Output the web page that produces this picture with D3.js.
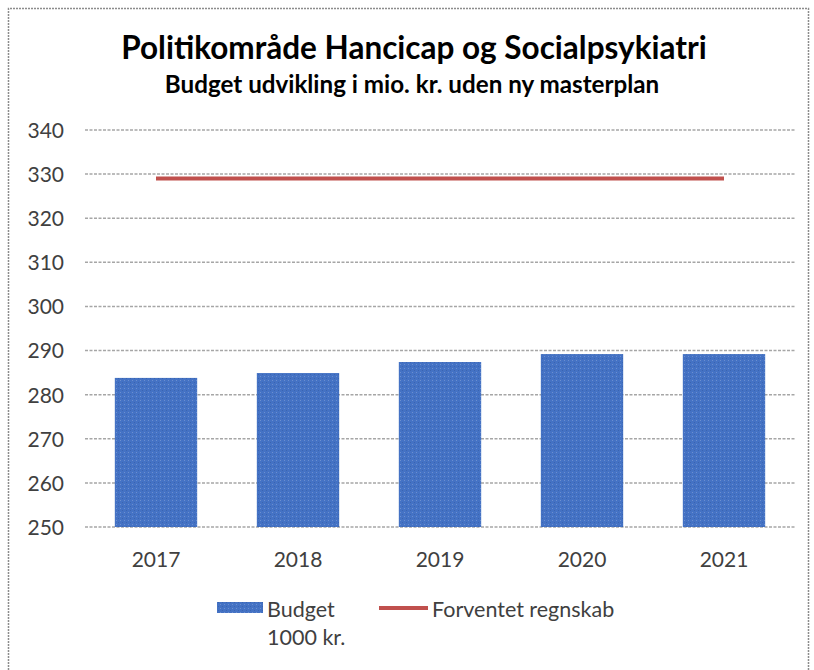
<!DOCTYPE html>
<html><head><meta charset="utf-8">
<script src="https://cdn.jsdelivr.net/npm/d3@7"></script>
<style>body{margin:0;background:#fff;}svg{display:block;}</style>
</head><body>
<script>
const categories = ["2017","2018","2019","2020","2021"];
const budget = [283.8, 284.9, 287.4, 289.2, 289.2];
const forventet = [329, 329, 329, 329, 329];
const yTicks = [250,260,270,280,290,300,310,320,330,340];

const W = 814, H = 670;
const svg = d3.select("body").append("svg").attr("width", W).attr("height", H);
const font = "Lato, 'Open Sans', sans-serif";

const defs = svg.append("defs");
const pat = defs.append("pattern").attr("id","dots").attr("patternUnits","userSpaceOnUse").attr("width",4).attr("height",4);
pat.append("rect").attr("width",4).attr("height",4).attr("fill","#4472c4");
pat.append("rect").attr("x",0).attr("y",0).attr("width",1).attr("height",1).attr("fill","#6b8fd0");
pat.append("rect").attr("x",2).attr("y",2).attr("width",1).attr("height",1).attr("fill","#3a64b0");

// frame
svg.append("path").attr("d","M8.5,670 V8.5 H808.5 V670").attr("fill","none")
  .attr("stroke","#8c8c8c").attr("stroke-width",1.5).attr("stroke-dasharray","2,1");

const x = d3.scaleBand().domain(categories).range([85,795]).paddingInner(0.42).paddingOuter(0.21);
const y = d3.scaleLinear().domain([250,340]).range([527,130]);

// grid
svg.append("g").selectAll("line").data(yTicks).join("line")
  .attr("x1",85).attr("x2",795).attr("y1",d=>y(d)).attr("y2",d=>y(d))
  .attr("stroke","#a6a6a6").attr("stroke-width",1.5).attr("stroke-dasharray","3,1.5");

// y axis labels
const yAxis = d3.axisLeft(y).tickValues(yTicks).tickSize(0).tickPadding(0);
const yg = svg.append("g").attr("transform","translate(64,0)").call(yAxis);
yg.select(".domain").remove();
yg.selectAll("text").attr("font-family",font).attr("font-size",21).attr("fill","#404040").attr("dy","0.35em");

// x axis labels
const xAxis = d3.axisBottom(x).tickSize(0).tickPadding(0);
const xg = svg.append("g").attr("transform","translate(0,552)").call(xAxis);
xg.select(".domain").remove();
xg.selectAll("text").attr("font-family",font).attr("font-size",21).attr("fill","#404040").attr("dy","0.71em");

// bars
svg.append("g").selectAll("rect").data(budget).join("rect")
  .attr("x",(d,i)=>x(categories[i])).attr("width",x.bandwidth())
  .attr("y",d=>y(d)).attr("height",d=>y(250)-y(d))
  .attr("fill","url(#dots)");

// line
const line = d3.line().x((d,i)=>x(categories[i])+x.bandwidth()/2).y(d=>y(d));
svg.append("path").datum(forventet).attr("d",line).attr("fill","none")
  .attr("stroke","#c0504d").attr("stroke-width",4);

// titles
svg.append("text").attr("x",414).attr("y",59).attr("text-anchor","middle")
  .attr("font-family",font).attr("font-weight","bold").attr("font-size",31.5).attr("fill","#000")
  .text("Politikområde Hancicap og Socialpsykiatri");
svg.append("text").attr("x",412).attr("y",93).attr("text-anchor","middle")
  .attr("font-family",font).attr("font-weight","bold").attr("font-size",24.2).attr("fill","#000")
  .text("Budget udvikling i mio. kr. uden ny masterplan");

// legend
const lg = svg.append("g");
lg.append("rect").attr("x",217).attr("y",602).attr("width",46).attr("height",11).attr("fill","url(#dots)");
lg.append("text").attr("x",267).attr("y",617).attr("font-family",font).attr("font-size",21.5).attr("fill","#404040").text("Budget");
lg.append("text").attr("x",267).attr("y",645).attr("font-family",font).attr("font-size",21.5).attr("fill","#404040").text("1000 kr.");
lg.append("line").attr("x1",379).attr("x2",428).attr("y1",608).attr("y2",608).attr("stroke","#c0504d").attr("stroke-width",4);
lg.append("text").attr("x",432).attr("y",617).attr("font-family",font).attr("font-size",21.5).attr("fill","#404040").text("Forventet regnskab");
</script>
</body></html>
